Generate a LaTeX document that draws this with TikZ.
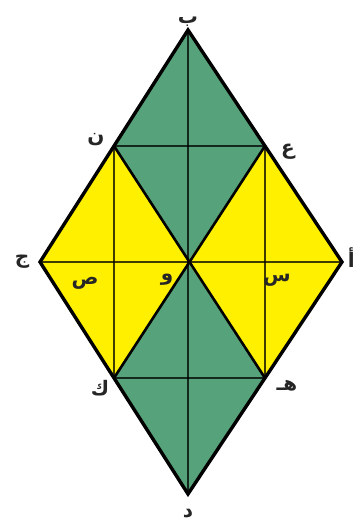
\documentclass[tikz,border=0pt]{standalone}
\usepackage{fontspec}
\newfontfamily\arabicfont[Script=Arabic]{DejaVu Sans}
\TeXXeTstate=1
\usetikzlibrary{calc}

\definecolor{leafgreen}{RGB}{86,162,122}
\definecolor{brightyellow}{RGB}{255,240,0}

\newcommand{\ar}[1]{{\arabicfont\bfseries\beginR #1\endR}}

\begin{document}
\begin{tikzpicture}[
  x=1pt, y=-1pt,
  outer/.style={draw=black, line width=3.4pt, line join=miter},
  diag/.style={draw=black, line width=2.6pt},
  inner/.style={draw=black, draw opacity=0.75, line width=2pt},
  lbl/.style={font=\fontsize{20}{22}\selectfont, inner sep=0pt, text=black!85}
]
\useasboundingbox (0,0) rectangle (355,526);

% vertices
\coordinate (B) at (188,30);
\coordinate (D) at (188,494);
\coordinate (J) at (40,262);
\coordinate (A) at (342,262);
\coordinate (O) at ($(B)!0.5!(D)$);
\coordinate (N) at ($(B)!0.5!(J)$);
\coordinate (E) at ($(B)!0.5!(A)$);
\coordinate (K) at ($(D)!0.5!(J)$);
\coordinate (H) at ($(D)!0.5!(A)$);

\fill[leafgreen] (B) -- (N) -- (O) -- (E) -- cycle;
\fill[leafgreen] (D) -- (K) -- (O) -- (H) -- cycle;
\fill[brightyellow] (N) -- (J) -- (K) -- (O) -- cycle;
\fill[brightyellow] (E) -- (A) -- (H) -- (O) -- cycle;

\draw[inner] (B) -- (D);
\draw[inner] (J) -- (A);
\draw[inner] (N) -- (E);
\draw[inner] (K) -- (H);
\draw[inner] (N) -- (K);
\draw[inner] (E) -- (H);
\draw[diag] (N) -- (H);
\draw[diag] (E) -- (K);
\draw[outer] (B) -- (A) -- (D) -- (J) -- cycle;

% labels
\node[lbl, anchor=south] (lB) at (188,27) {\ar{ب}};
\node[lbl] (lN) at (96,140) {\ar{ن}};
\node[lbl] (lE) at (288,152) {\ar{ع}};
\node[lbl, anchor=east] (lA) at (355,258) {\ar{أ}};
\node[lbl] (lJ) at (22,262) {\ar{ج}};
\node[lbl] (lS) at (85,283) {\ar{ص}};
\node[lbl] (lO) at (167,280) {\ar{و}};
\node[lbl] (lX) at (277,280) {\ar{س}};
\node[lbl] (lK) at (100,388) {\ar{ك}};
\node[lbl] (lH) at (287,386) {\ar{هـ}};
\node[lbl] (lD) at (188,514) {\ar{د}};
\end{tikzpicture}
\end{document}
